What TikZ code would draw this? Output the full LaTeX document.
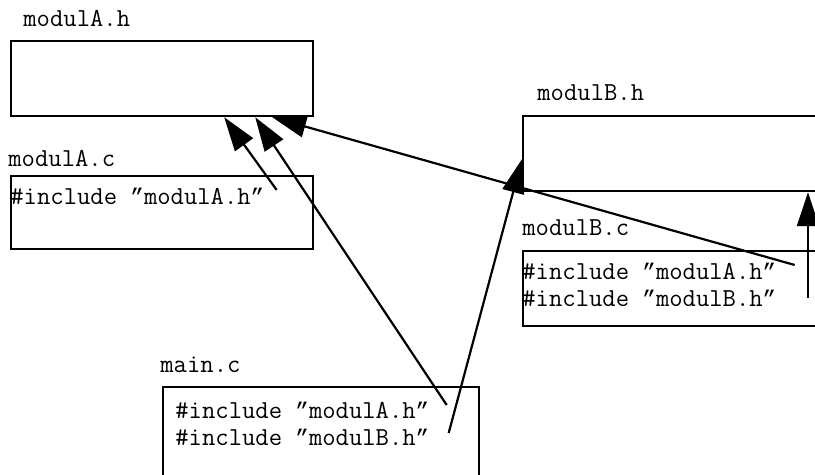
\documentclass[tikz,border=0pt]{standalone}
\usepackage{fontspec}
\usepackage{tikz}
\usetikzlibrary{arrows.meta}
\newfontfamily\quotefont{Liberation Mono}
\newcommand{\cq}{{\quotefont\fontsize{11.3}{16}\selectfont ”}}

\begin{document}
\begin{tikzpicture}[x=0.5pt, y=-0.5pt,
    filebox/.style={rectangle, draw, line width=1.1pt, anchor=north west, inner sep=0pt},
    fname/.style={font=\ttfamily\fontsize{12.95}{16}\selectfont, anchor=west, inner sep=0pt},
    code/.style={font=\ttfamily\fontsize{12.95}{16}\selectfont, anchor=west, inner sep=0pt},
    incl/.style={-{Triangle[length=17pt, width=11pt]}, line width=1.1pt}]
    \useasboundingbox (0,0) rectangle (815,475);
    \clip (0,0) rectangle (815,475);

    % boxes
    \node (mah) [filebox, minimum width=151pt, minimum height=37.5pt] at (10,40) {};
    \node (mac) [filebox, minimum width=151pt, minimum height=36.5pt] at (10,175) {};
    \node (mbh) [filebox, minimum width=200pt, minimum height=37.5pt] at (522,115) {};
    \node (mbc) [filebox, minimum width=200pt, minimum height=37.5pt] at (522,250) {};
    \node (main) [filebox, minimum width=158pt, minimum height=60pt] at (162,386) {};

    % file names
    \node (lmah) [fname] at (23,18) {modulA.h};
    \node (lmac) [fname] at (8,158) {modulA.c};
    \node (lmbh) [fname] at (537,93) {modulB.h};
    \node (lmbc) [fname] at (522,228) {modulB.c};
    \node (lmain) [fname] at (160,365) {main.c};

    % includes
    \node (inca) [code] at (10,196) {\#include \cq modulA.h\cq};
    \node (incba) [code] at (522,271) {\#include \cq modulA.h\cq};
    \node (incbb) [code] at (522,298) {\#include \cq modulB.h\cq};
    \node (incma) [code] at (175,410) {\#include \cq modulA.h\cq};
    \node (incmb) [code] at (175,437) {\#include \cq modulB.h\cq};

    \draw [incl] ([xshift=6pt, yshift=3pt]inca.east) -- ([xshift=-45pt]mah.south east);
    \draw [incl] ([xshift=8.5pt, yshift=2.5pt]incma.east) -- ([xshift=-29.5pt]mah.south east);
    \draw [incl] ([xshift=9pt, yshift=3pt]incba.east) -- ([xshift=-21pt]mah.south east);
    \draw [incl] ([xshift=9.5pt, yshift=2pt]incmb.east) -- ([yshift=-2.75pt]mbh.west);
    \draw [incl] ([xshift=143pt]mbh.south west |- incbb.east) -- ([xshift=143pt]mbh.south west);
\end{tikzpicture}
\end{document}
